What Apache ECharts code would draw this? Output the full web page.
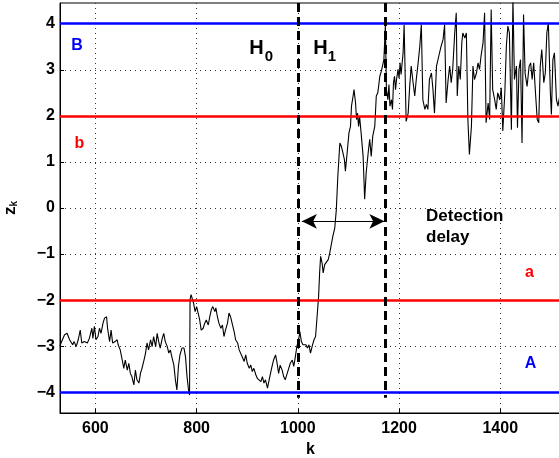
<!DOCTYPE html>
<html>
<head>
<meta charset="utf-8">
<script src="https://cdn.jsdelivr.net/npm/echarts@6/dist/echarts.min.js"></script>
<style>
  html, body { margin: 0; padding: 0; background: #fff; }
  #chart { width: 559px; height: 458px; }
</style>
</head>
<body>
<div id="chart"></div>
<script>
// Sample index k and the test statistic z_k
const kValues = [
  530, 532, 539, 544, 549, 555, 558, 562, 566, 570, 573, 578, 584, 588, 593, 595, 598, 601, 605, 608,
  611, 615, 618, 622, 624, 628, 631, 634, 639, 643, 645, 649, 653, 656, 659, 663, 666, 669, 672, 676,
  679, 682, 686, 689, 692, 696, 699, 702, 705, 709, 712, 715, 719, 722, 725, 728, 732, 735, 738, 742,
  745, 748, 751, 755, 758, 761, 764, 767, 771, 775, 778, 781, 784, 786, 787, 789, 791, 794, 797, 800,
  803, 806, 809, 813, 816, 819, 823, 826, 829, 832, 836, 838, 841, 844, 848, 851, 854, 857, 861, 864,
  867, 871, 874, 877, 881, 884, 887, 890, 894, 897, 900, 904, 907, 910, 913, 917, 920, 923, 927, 930,
  933, 936, 940, 942, 946, 949, 952, 956, 959, 962, 965, 969, 972, 975, 979, 982, 985, 989, 992, 995,
  998, 1002, 1004, 1007, 1010, 1013, 1016, 1019, 1022, 1025, 1029, 1032, 1035, 1038, 1041, 1043, 1045, 1048, 1050, 1053,
  1056, 1060, 1063, 1066, 1069, 1073, 1076, 1079, 1083, 1086, 1089, 1092, 1094, 1098, 1101, 1104, 1106, 1109, 1111, 1114,
  1116, 1118, 1120, 1122, 1125, 1129, 1132, 1135, 1139, 1142, 1145, 1148, 1152, 1155, 1158, 1162, 1165, 1168, 1170, 1173,
  1175, 1178, 1180, 1182, 1185, 1187, 1189, 1191, 1193, 1195, 1198, 1200, 1202, 1204, 1208, 1210, 1214, 1218, 1221, 1224,
  1227, 1231, 1234, 1237, 1241, 1244, 1247, 1251, 1254, 1257, 1260, 1264, 1267, 1270, 1274, 1277, 1280, 1283, 1287, 1290,
  1293, 1297, 1300, 1303, 1306, 1310, 1313, 1315, 1318, 1321, 1324, 1326, 1330, 1333, 1336, 1339, 1343, 1346, 1349, 1353,
  1356, 1359, 1362, 1366, 1369, 1372, 1376, 1379, 1382, 1385, 1389, 1392, 1395, 1399, 1402, 1405, 1409, 1412, 1415, 1418,
  1422, 1425, 1428, 1432, 1434, 1437, 1440, 1443, 1446, 1449, 1453, 1457, 1460, 1463, 1466, 1470, 1473, 1476, 1479, 1482,
  1486, 1489, 1492, 1495, 1499, 1501, 1504, 1507, 1511, 1514, 1520
];
const zValues = [
  -3.00, -2.93, -2.75, -2.72, -2.86, -2.97, -2.90, -3.01, -2.86, -2.65, -2.93, -2.90, -2.93, -2.83, -2.61, -2.83, -2.57, -2.86, -2.79, -2.61,
  -2.72, -2.50, -2.39, -2.36, -2.61, -2.90, -2.65, -2.93, -2.90, -2.86, -2.97, -3.08, -3.30, -3.48, -3.30, -3.52, -3.37, -3.59, -3.66, -3.84,
  -3.52, -3.73, -3.80, -3.59, -3.48, -3.30, -3.15, -2.93, -3.08, -2.86, -3.01, -2.79, -3.01, -2.72, -2.90, -3.04, -2.83, -2.72, -2.90, -3.01,
  -3.15, -3.08, -3.23, -3.41, -3.73, -3.95, -3.44, -3.19, -3.04, -3.04, -3.23, -3.66, -3.95, -4.06, -1.99, -1.88, -1.85, -2.07, -2.25, -2.14,
  -2.28, -2.43, -2.65, -2.61, -2.50, -2.43, -2.54, -2.36, -2.21, -2.14, -2.25, -2.17, -2.36, -2.50, -2.61, -2.54, -2.79, -2.65, -2.50, -2.28,
  -2.36, -2.54, -2.68, -2.86, -2.93, -3.08, -3.04, -3.23, -3.33, -3.19, -3.37, -3.48, -3.41, -3.55, -3.48, -3.62, -3.70, -3.66, -3.77, -3.66,
  -3.80, -3.73, -3.91, -3.80, -3.59, -3.44, -3.30, -3.19, -3.37, -3.59, -3.41, -3.52, -3.66, -3.73, -3.59, -3.48, -3.37, -3.30, -3.44, -3.23,
  -3.01, -2.83, -2.68, -2.90, -2.97, -3.01, -2.97, -3.04, -2.97, -3.15, -2.97, -2.86, -2.79, -2.36, -1.92, -1.41, -1.05, -1.20, -1.41, -1.23,
  -1.27, -1.12, -0.98, -0.94, -0.62, -0.43, -0.04, 0.69, 1.41, 1.34, 1.20, 1.05, 0.80, 1.27, 1.63, 1.77, 2.21, 2.42, 2.57, 2.28,
  1.92, 2.06, 1.77, 1.99, 1.63, 1.12, 0.19, 0.76, 1.20, 1.49, 1.12, 1.56, 1.77, 2.43, 2.50, 2.86, 2.97, 3.01, 3.22, 3.98,
  2.57, 2.35, 2.68, 2.21, 2.35, 2.14, 2.72, 2.86, 2.57, 2.79, 3.01, 2.82, 3.15, 2.90, 3.37, 3.98, 1.88, 2.06, 2.64, 3.08,
  2.79, 2.43, 2.79, 3.08, 3.51, 3.98, 2.35, 2.14, 2.25, 2.14, 2.79, 2.93, 2.57, 2.06, 3.08, 3.11, 3.37, 3.51, 3.66, 3.98,
  2.28, 2.79, 3.08, 2.72, 3.01, 3.80, 4.24, 2.43, 3.08, 2.79, 3.59, 3.80, 3.69, 3.80, 1.92, 1.16, 1.77, 3.08, 2.79, 2.93,
  3.15, 3.01, 3.30, 3.59, 4.24, 1.85, 2.28, 1.92, 4.31, 2.57, 2.35, 2.14, 2.50, 2.35, 2.61, 1.67, 2.50, 3.51, 3.95, 3.80,
  1.70, 4.55, 2.79, 3.08, 1.74, 3.01, 3.22, 1.41, 4.20, 2.93, 2.64, 3.08, 3.15, 2.79, 3.15, 2.43, 1.92, 1.85, 3.08, 3.44,
  2.72, 2.93, 3.80, 4.02, 2.50, 2.03, 3.22, 3.37, 2.35, 2.21, 2.60
];

// Axis ticks
const xTicks = [600, 800, 1000, 1200, 1400];
const yTicks = [-4, -3, -2, -1, 0, 1, 2, 3, 4];

// Decision thresholds: name, level, colour
const thresholdNames = ['B', 'b', 'a', 'A'];
const thresholdLevels = [4, 2, -2, -4];
const thresholdColors = ['#0000ff', '#ff0000', '#ff0000', '#0000ff'];

// Change point and detection instant
const changeK = 1000;
const detectK = 1173;
// Detection-delay arrow tips and its level
const delayArrowK = [1008, 1171];
const delayArrowZ = -0.29;

const FONT = 'Liberation Sans, Arial, Helvetica, sans-serif';
const xMin = 530, xMax = 1520, yMin = -4.45, yMax = 4.45;

const chart = echarts.init(document.getElementById('chart'), null, { renderer: 'canvas' });

const signal = kValues.map((k, i) => [k, zValues[i]]);

const minusFmt = v => (v < 0 ? '\u2212' + Math.abs(v) : String(v));

const txt = (text, x, y, size, color, align) => ({
  type: 'text',
  x: x, y: y,
  silent: true,
  style: {
    text: text,
    fill: color || '#000',
    font: 'bold ' + size + 'px ' + FONT,
    align: align || 'center',
    verticalAlign: 'middle',
    textAlign: align || 'center',
    textVerticalAlign: 'middle'
  },
  z: 100
});

const option = {
  animation: false,
  backgroundColor: '#fff',
  grid: {
    left: 60, top: 3, right: -2, bottom: 45,
    containLabel: false,
    outerBoundsMode: 'none',
    show: true, borderColor: '#000', borderWidth: 1, backgroundColor: 'transparent'
  },
  xAxis: {
    type: 'value',
    min: xMin, max: xMax,
    name: 'k',
    nameLocation: 'middle',
    nameGap: 27,
    nameTextStyle: { fontFamily: FONT, fontWeight: 'bold', fontSize: 16, color: '#000' },
    axisLine: { show: true, onZero: false, lineStyle: { color: '#000', width: 1 } },
    axisTick: { show: true, inside: true, length: 4, customValues: xTicks, lineStyle: { color: '#000' } },
    axisLabel: {
      customValues: xTicks, margin: 8, formatter: v => String(v),
      fontFamily: FONT, fontWeight: 'bold', fontSize: 16, color: '#000'
    },
    splitLine: { show: true, lineStyle: { color: '#333', width: 1, type: [1, 4] } }
  },
  yAxis: {
    type: 'value',
    min: yMin, max: yMax,
    name: '{z|z}{k|k}',
    nameLocation: 'middle',
    nameGap: 41,
    nameTextStyle: {
      color: '#000',
      rich: {
        z: { fontFamily: FONT, fontWeight: 'bold', fontSize: 17, color: '#000' },
        k: { fontFamily: FONT, fontWeight: 'bold', fontSize: 10, color: '#000', verticalAlign: 'bottom' }
      }
    },
    axisLine: { show: true, onZero: false, lineStyle: { color: '#000', width: 1 } },
    axisTick: { show: true, inside: true, length: 4, customValues: yTicks, lineStyle: { color: '#000' } },
    axisLabel: {
      customValues: yTicks, margin: 5, formatter: minusFmt,
      fontFamily: FONT, fontWeight: 'bold', fontSize: 16, color: '#000'
    },
    splitLine: { show: true, lineStyle: { color: '#333', width: 1, type: [1, 4] } }
  },
  series: [
    {
      // threshold levels
      type: 'line', data: [], z: 1, silent: true,
      markLine: {
        silent: true, symbol: 'none', animation: false,
        label: { show: false },
        data: thresholdLevels.map((v, i) => ({
          yAxis: v,
          lineStyle: { color: thresholdColors[i], width: 2.6, type: 'solid' }
        }))
      }
    },
    {
      // z_k trajectory
      type: 'line', data: signal, z: 2, silent: true,
      showSymbol: false, symbol: 'none',
      lineStyle: { color: '#000', width: 1.1 },
      clip: true
    },
    {
      // change point, detection instant and delay arrow
      type: 'line', data: [], z: 3, silent: true,
      markLine: {
        silent: true, animation: false,
        label: { show: false },
        data: [
          [
            { coord: [changeK, yMax], symbol: 'none', lineStyle: { color: '#000', width: 3, type: [9, 5] } },
            { coord: [changeK, -4.12], symbol: 'none' }
          ],
          [
            { coord: [detectK, yMax], symbol: 'none', lineStyle: { color: '#000', width: 3, type: [9, 5] } },
            { coord: [detectK, -4.12], symbol: 'none' }
          ],
          [
            { coord: [delayArrowK[0], delayArrowZ], symbol: 'arrow', symbolSize: [11, 15], lineStyle: { color: '#000', width: 1.2, type: 'solid' } },
            { coord: [delayArrowK[1], delayArrowZ], symbol: 'arrow', symbolSize: [11, 15] }
          ]
        ]
      }
    }
  ],
  graphic: [
    txt(thresholdNames[0], 77, 45.5, 16, thresholdColors[0]),
    txt(thresholdNames[1], 79.5, 144, 16, thresholdColors[1]),
    txt(thresholdNames[2], 529.5, 273, 16, thresholdColors[2]),
    txt(thresholdNames[3], 530.5, 364, 16, thresholdColors[3]),
    txt('H', 256.5, 48, 20),
    txt('0', 269, 57, 15),
    txt('H', 320.5, 48, 20),
    txt('1', 332, 57, 15),
    txt('Detection', 426, 216, 17, '#000', 'left'),
    txt('delay', 426, 237, 17, '#000', 'left')
  ]
};

chart.setOption(option);
</script>
</body>
</html>
